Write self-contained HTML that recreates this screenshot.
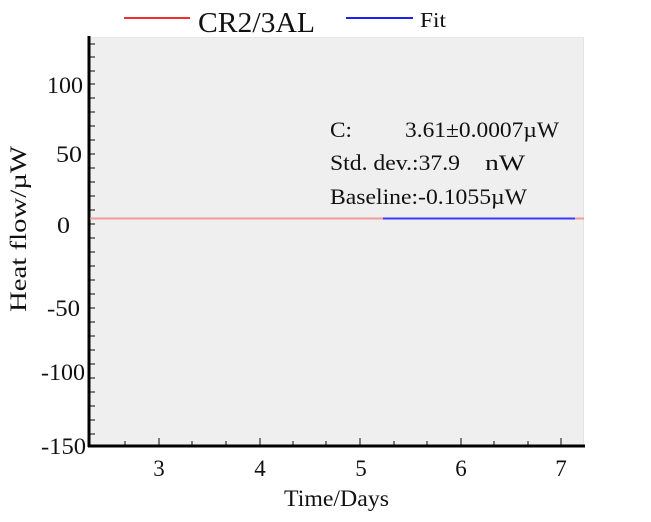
<!DOCTYPE html>
<html><head><meta charset="utf-8"><style>
html,body{margin:0;padding:0;background:#fff;}
svg{display:block;font-family:"Liberation Serif",serif;}
</style></head><body>
<svg width="651" height="522" viewBox="0 0 651 522" xmlns="http://www.w3.org/2000/svg">
<rect x="89" y="37" width="495" height="409" fill="#efefef"/>
<line x1="583.5" y1="37" x2="583.5" y2="446" stroke="#e4e4e4" stroke-width="1"/>
<line x1="89" y1="37.5" x2="584" y2="37.5" stroke="#e6e6e6" stroke-width="1"/>
<g stroke="#555" stroke-width="1.5">
<line x1="89" y1="44" x2="95" y2="44"/><line x1="89" y1="57" x2="95" y2="57"/><line x1="89" y1="71" x2="95" y2="71"/><line x1="89" y1="84" x2="95" y2="84"/>
<line x1="89" y1="98" x2="95" y2="98"/><line x1="89" y1="112" x2="95" y2="112"/><line x1="89" y1="126" x2="95" y2="126"/><line x1="89" y1="140" x2="95" y2="140"/>
<line x1="89" y1="154" x2="95" y2="154"/><line x1="89" y1="168" x2="95" y2="168"/><line x1="89" y1="182" x2="95" y2="182"/><line x1="89" y1="196" x2="95" y2="196"/>
<line x1="89" y1="210" x2="95" y2="210"/><line x1="89" y1="224" x2="95" y2="224"/><line x1="89" y1="238" x2="95" y2="238"/><line x1="89" y1="252" x2="95" y2="252"/>
<line x1="89" y1="266" x2="95" y2="266"/><line x1="89" y1="280" x2="95" y2="280"/><line x1="89" y1="294" x2="95" y2="294"/><line x1="89" y1="308" x2="95" y2="308"/>
<line x1="89" y1="322" x2="95" y2="322"/><line x1="89" y1="336" x2="95" y2="336"/><line x1="89" y1="350" x2="95" y2="350"/><line x1="89" y1="364" x2="95" y2="364"/>
<line x1="89" y1="378" x2="95" y2="378"/><line x1="89" y1="392" x2="95" y2="392"/><line x1="89" y1="406" x2="95" y2="406"/><line x1="89" y1="420" x2="95" y2="420"/><line x1="89" y1="434" x2="95" y2="434"/>
</g>
<g stroke="#555" stroke-width="1.5">
<line x1="125" y1="446" x2="125" y2="441"/><line x1="159" y1="446" x2="159" y2="438"/><line x1="192" y1="446" x2="192" y2="441"/><line x1="226" y1="446" x2="226" y2="441"/>
<line x1="260" y1="446" x2="260" y2="438"/><line x1="293" y1="446" x2="293" y2="441"/><line x1="326" y1="446" x2="326" y2="441"/>
<line x1="360" y1="446" x2="360" y2="438"/><line x1="394" y1="446" x2="394" y2="441"/><line x1="427" y1="446" x2="427" y2="441"/>
<line x1="461" y1="446" x2="461" y2="438"/><line x1="494" y1="446" x2="494" y2="441"/><line x1="528" y1="446" x2="528" y2="441"/>
<line x1="561" y1="446" x2="561" y2="438"/>
</g>
<line x1="89" y1="36" x2="89" y2="447" stroke="#000" stroke-width="3"/>
<line x1="88" y1="446" x2="585" y2="446" stroke="#000" stroke-width="3"/>
<line x1="90" y1="218.5" x2="584" y2="218.5" stroke="#f39a9a" stroke-width="2"/>
<line x1="383" y1="218.5" x2="575" y2="218.5" stroke="#3a3aff" stroke-width="2"/>
<g font-size="23" fill="#111">
<text x="47" y="93" textLength="36" lengthAdjust="spacingAndGlyphs">100</text>
<text x="56" y="162" textLength="26" lengthAdjust="spacingAndGlyphs">50</text>
<text x="57" y="233" textLength="13" lengthAdjust="spacingAndGlyphs">0</text>
<text x="47" y="316" textLength="33" lengthAdjust="spacingAndGlyphs">-50</text>
<text x="41" y="380" textLength="44" lengthAdjust="spacingAndGlyphs">-100</text>
<text x="41" y="454" textLength="45" lengthAdjust="spacingAndGlyphs">-150</text>
</g>
<g font-size="23" fill="#111" text-anchor="middle">
<text x="159" y="476">3</text><text x="260" y="476">4</text><text x="361" y="476">5</text><text x="461" y="476">6</text><text x="561" y="476">7</text>
</g>
<text x="284" y="506" font-size="23" fill="#111" textLength="105" lengthAdjust="spacingAndGlyphs">Time/Days</text>
<text transform="translate(26,312) rotate(-90)" font-size="23" fill="#111" textLength="166" lengthAdjust="spacingAndGlyphs">Heat flow/µW</text>
<g font-size="22" fill="#111">
<text x="330" y="137" textLength="22" lengthAdjust="spacingAndGlyphs">C:</text>
<text x="405" y="137" textLength="154" lengthAdjust="spacingAndGlyphs">3.61±0.0007µW</text>
<text x="330" y="170" textLength="130" lengthAdjust="spacingAndGlyphs">Std. dev.:37.9</text>
<text x="485" y="170" textLength="40" lengthAdjust="spacingAndGlyphs">nW</text>
<text x="330" y="204" textLength="197" lengthAdjust="spacingAndGlyphs">Baseline:-0.1055µW</text>
</g>
<line x1="124" y1="18" x2="190" y2="18" stroke="#f03030" stroke-width="2"/>
<text x="198" y="32" font-size="28" fill="#111" textLength="117" lengthAdjust="spacingAndGlyphs">CR2/3AL</text>
<line x1="346" y1="18" x2="413" y2="18" stroke="#2020f0" stroke-width="2"/>
<text x="420" y="27" font-size="21" fill="#111" textLength="26" lengthAdjust="spacingAndGlyphs">Fit</text>
</svg>
</body></html>
